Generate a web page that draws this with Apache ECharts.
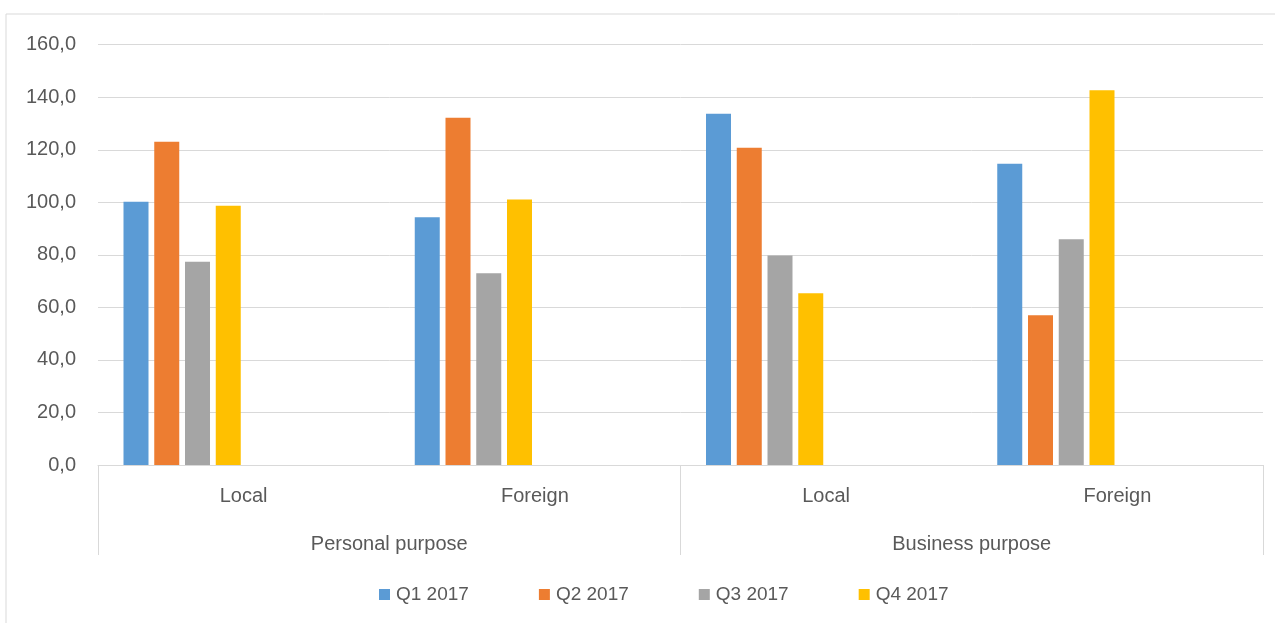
<!DOCTYPE html>
<html>
<head>
<meta charset="utf-8">
<script src="https://cdn.jsdelivr.net/npm/echarts@6/dist/echarts.min.js"></script>
<style>
  html, body { margin: 0; padding: 0; background: #fff; }
  #main { width: 1275px; height: 623px; }
</style>
</head>
<body>
<div id="main"></div>
<script>
var subCategories = ['Local', 'Foreign', 'Local', 'Foreign'];
var groupCategories = ['Personal purpose', 'Business purpose'];
var seriesNames = ['Q1 2017', 'Q2 2017', 'Q3 2017', 'Q4 2017'];
var q1 = [100.2, 94.3, 133.7, 114.7];
var q2 = [123.1, 132.2, 120.8, 57.0];
var q3 = [77.4, 73.0, 79.8, 85.9];
var q4 = [98.7, 101.1, 65.4, 142.7];
var colors = ['#5B9BD5', '#ED7D31', '#A5A5A5', '#FFC000'];

var myChart = echarts.init(document.getElementById('main'));

var font = 'Liberation Sans';
var textColor = '#595959';
var lineColor = '#d9d9d9';

var series = [];
var values = [q1, q2, q3, q4];
for (var i = 0; i < values.length; i++) {
    series.push({
        name: seriesNames[i],
        type: 'bar',
        data: values[i],
        barWidth: 25,
        barGap: '23%',
        itemStyle: { color: colors[i] }
    });
}
// empty slots, the original chart reserves room for 4 more series
for (var j = 0; j < 4; j++) {
    series.push({
        name: 'empty' + j,
        type: 'bar',
        data: [],
        barWidth: 25,
        barGap: '23%'
    });
}

var option = {
    animation: false,
    textStyle: { fontFamily: font },
    graphic: [{
        type: 'rect',
        shape: { x: 6, y: 14, width: 1300, height: 700 },
        style: { fill: null, stroke: lineColor, lineWidth: 1 },
        silent: true
    }],
    legend: {
        data: seriesNames,
        left: 374,
        top: 580,
        itemWidth: 11,
        itemHeight: 11,
        itemGap: 70,
        icon: 'rect',
        textStyle: { fontSize: 19, color: textColor, fontFamily: font, padding: [0, 0, 0, 1] }
    },
    grid: {
        left: 98,
        right: 12,
        top: 44.7,
        bottom: 158
    },
    xAxis: [{
        type: 'category',
        data: subCategories,
        position: 'bottom',
        axisLine: { show: true, lineStyle: { color: lineColor, width: 1 } },
        axisTick: { show: false },
        axisLabel: { fontSize: 20, color: textColor, margin: 21, fontFamily: font }
    }, {
        type: 'category',
        data: groupCategories,
        position: 'bottom',
        axisLine: { show: false },
        axisTick: { show: true, length: 90, interval: 0, lineStyle: { color: lineColor, width: 1 } },
        axisLabel: { fontSize: 20, color: textColor, margin: 69, fontFamily: font },
        splitLine: { show: false }
    }],
    yAxis: {
        type: 'value',
        min: 0,
        max: 160,
        interval: 20,
        axisLine: { show: false },
        axisTick: { show: false },
        splitLine: { lineStyle: { color: lineColor, width: 1 } },
        axisLabel: {
            fontSize: 20,
            color: textColor,
            margin: 22,
            fontFamily: font,
            formatter: function (v) {
                return v.toFixed(1).replace('.', ',');
            }
        }
    },
    series: series
};

myChart.setOption(option);
</script>
</body>
</html>
